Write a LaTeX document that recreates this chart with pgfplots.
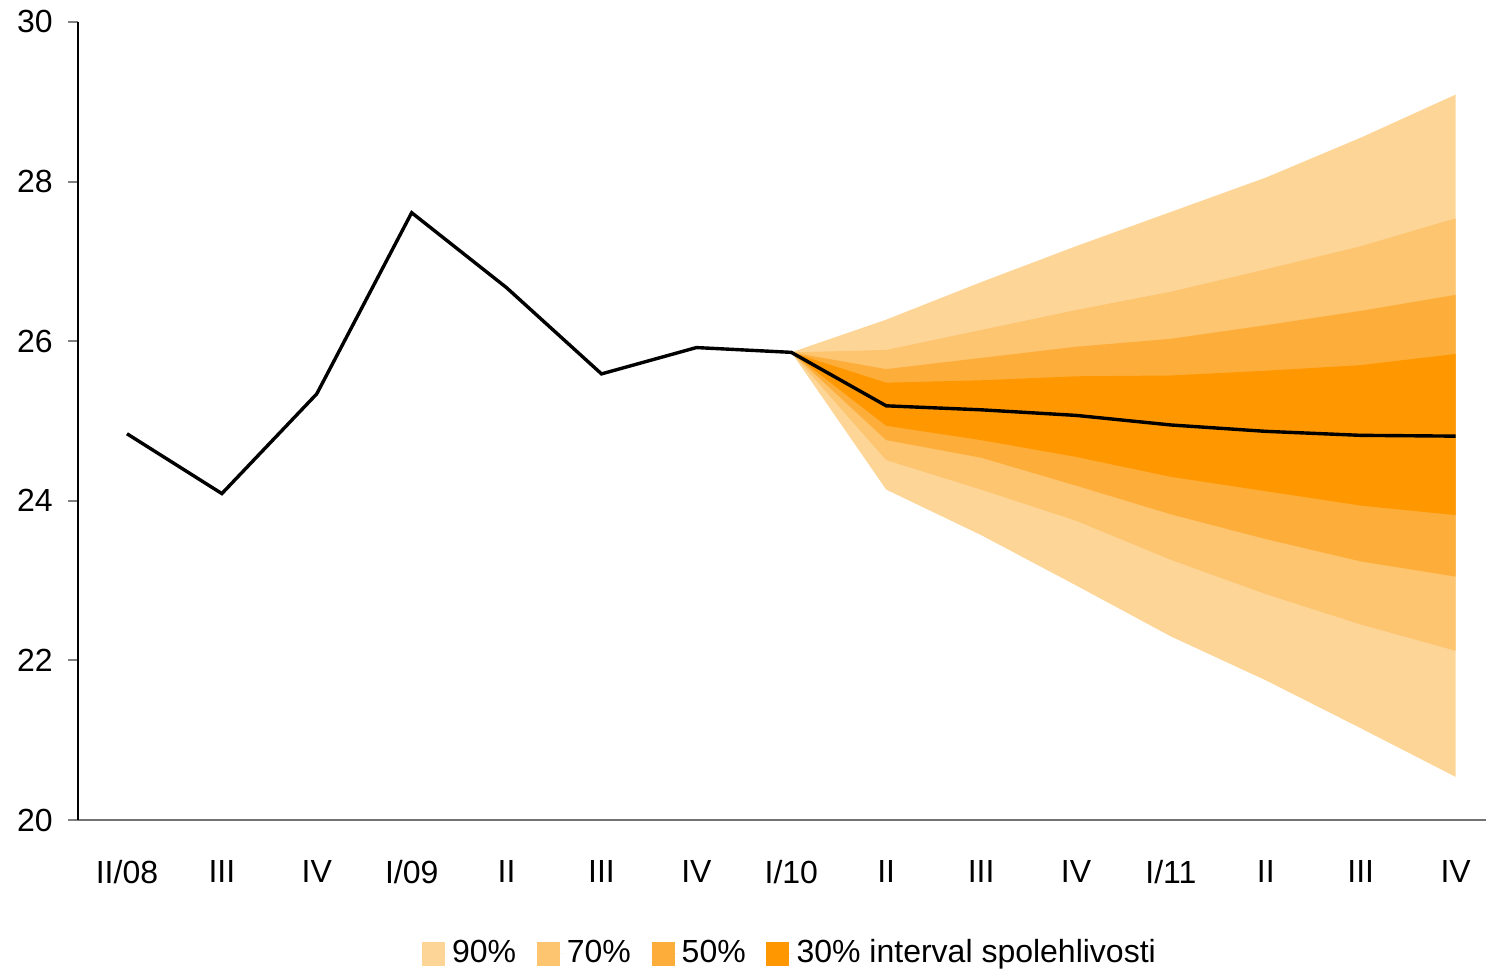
\documentclass[border=0pt]{standalone}
\usepackage{fontspec}
\setmainfont{Liberation Sans}
\usepackage{pgfplots}
\usepackage{pgfplotstable}
\pgfplotsset{compat=1.18}
\usepgfplotslibrary{fillbetween}

\definecolor{c90}{RGB}{253,213,151}
\definecolor{c70}{RGB}{253,197,112}
\definecolor{c50}{RGB}{253,174,58}
\definecolor{c30}{RGB}{255,151,0}

% fan: upper and lower bounds of the intervals
\pgfplotstableread{
x  u90   u70   u50   u30   l30   l50   l70   l90
7  25.86 25.86 25.86 25.86 25.86 25.86 25.86 25.86
8  26.27 25.89 25.65 25.48 24.94 24.76 24.51 24.14
9  26.74 26.14 25.79 25.51 24.76 24.54 24.14 23.57
10 27.19 26.39 25.93 25.56 24.55 24.19 23.75 22.94
11 27.62 26.62 26.03 25.57 24.30 23.83 23.26 22.30
12 28.05 26.90 26.20 25.63 24.12 23.52 22.83 21.75
13 28.55 27.19 26.38 25.70 23.94 23.24 22.45 21.15
14 29.09 27.54 26.58 25.84 23.82 23.05 22.12 20.54
}\fan

\pgfplotstableread{
x  y
0  24.84
1  24.09
2  25.34
3  27.61
4  26.67
5  25.59
6  25.92
7  25.86
8  25.19
9  25.14
10 25.07
11 24.95
12 24.87
13 24.82
14 24.81
}\line

\begin{document}
\begin{tikzpicture}
\begin{axis}[
  name=ax,
  width=352pt, height=199.5pt, scale only axis,
  xmin=-0.516, xmax=14.32, ymin=20, ymax=30,
  axis x line=bottom, axis y line=left,
  axis line style={-},
  x axis line style={draw=gray!90!black},
  y axis line style={draw=black},
  xtick={0,...,14},
  xticklabels={II/08,III,IV,I/09,II,III,IV,I/10,II,III,IV,I/11,II,III,IV},
  x tick style={draw=none},
  major x tick style={draw=none},
  ytick={20,22,...,30},
  y tick style={draw=gray, line width=0.5pt},
  tick align=outside,
  major tick length=2.5pt,
  tick label style={font=\fontsize{8}{9.6}\selectfont},
  /pgf/number format/assume math mode=true,
  xticklabel style={yshift=-4pt},
  yticklabel style={xshift=-0.3pt},
  legend style={at={(0.506,0)}, anchor=center, yshift=-33.5pt,
    draw=none, font=\fontsize{8}{9.6}\selectfont,
    legend columns=4, inner sep=0pt,
    nodes={inner xsep=0.8pt, inner ysep=1pt},
    /tikz/every even column/.append style={column sep=4.35pt}},
  legend image code/.code={\path (0pt,0pt) -- (6.75pt,0pt);
    \fill[#1, draw=none] (0pt,-3pt) rectangle (5.75pt,3pt);},
]
\addplot[name path=u90, draw=none, forget plot] table[x=x, y=u90] {\fan};
\addplot[name path=l90, draw=none, forget plot] table[x=x, y=l90] {\fan};
\addplot[name path=u70, draw=none, forget plot] table[x=x, y=u70] {\fan};
\addplot[name path=l70, draw=none, forget plot] table[x=x, y=l70] {\fan};
\addplot[name path=u50, draw=none, forget plot] table[x=x, y=u50] {\fan};
\addplot[name path=l50, draw=none, forget plot] table[x=x, y=l50] {\fan};
\addplot[name path=u30, draw=none, forget plot] table[x=x, y=u30] {\fan};
\addplot[name path=l30, draw=none, forget plot] table[x=x, y=l30] {\fan};
\addplot[fill=c90, draw=none, forget plot] fill between[of=u90 and l90];
\addplot[fill=c70, draw=none, forget plot] fill between[of=u70 and l70];
\addplot[fill=c50, draw=none, forget plot] fill between[of=u50 and l50];
\addplot[fill=c30, draw=none, forget plot] fill between[of=u30 and l30];
\addplot[black, line width=0.85pt, forget plot] table[x=x, y=y] {\line};
\addlegendimage{fill=c90, draw=none}
\addlegendentry{90\%}
\addlegendimage{fill=c70, draw=none}
\addlegendentry{70\%}
\addlegendimage{fill=c50, draw=none}
\addlegendentry{50\%}
\addlegendimage{fill=c30, draw=none}
\addlegendentry{30\% interval spolehlivosti}
\end{axis}
\pgfresetboundingbox
\path ([shift={(-19.5pt,-37.5pt)}]ax.south west) rectangle ([shift={(0pt,5.5pt)}]ax.north east);
\end{tikzpicture}
\end{document}
